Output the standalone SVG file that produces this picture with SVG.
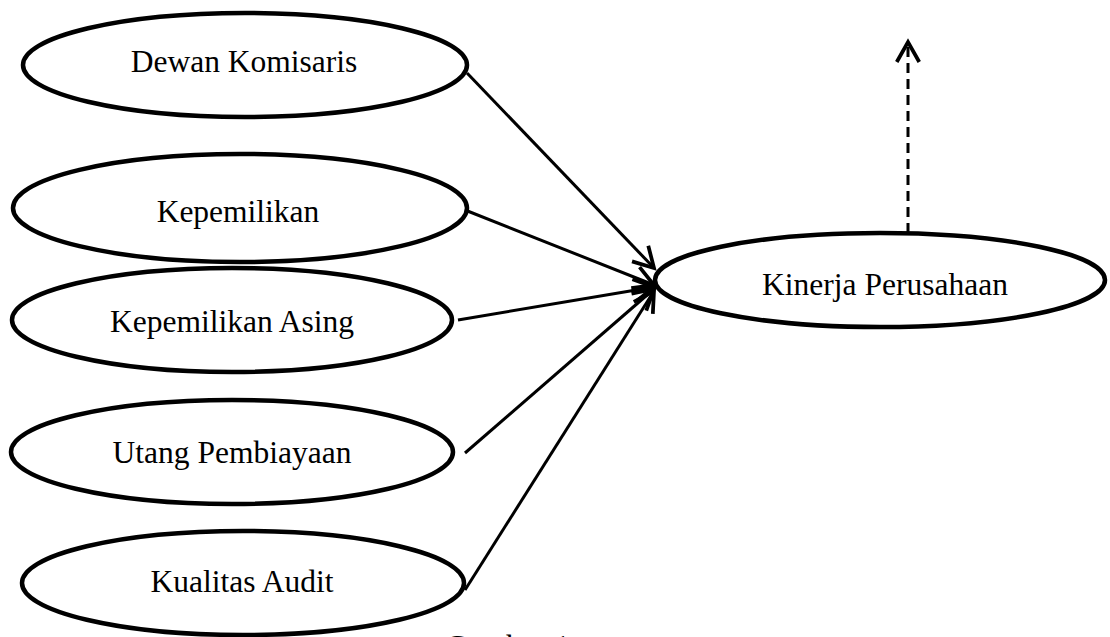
<svg xmlns="http://www.w3.org/2000/svg" width="1110" height="637" viewBox="0 0 1110 637">
<style>
.node ellipse{fill:#fff;stroke:#000;stroke-width:4.5}
.node text{font-family:"Liberation Serif","Times New Roman",serif;font-size:31.5px;fill:#000;text-anchor:middle}
.conn line{stroke:#000;stroke-width:3;fill:none}
.cap{font-family:"Liberation Serif","Times New Roman",serif;font-size:31.5px;fill:#000}
</style>
<defs>
<marker id="arr" markerUnits="userSpaceOnUse" markerWidth="30" markerHeight="30" viewBox="-20 -12 24 24" refX="0" refY="0" orient="auto">
<path d="M-16,-9 L0,0 L-16,9" fill="none" stroke="#000" stroke-width="3"/>
</marker>
</defs>
<rect width="1110" height="637" fill="#fff"/>
<g id="connectors" class="conn">
<line x1="467" y1="73" x2="654" y2="268" marker-end="url(#arr)"/>
<line x1="465" y1="210" x2="654" y2="285" marker-end="url(#arr)"/>
<line x1="458" y1="320" x2="654" y2="287" marker-end="url(#arr)"/>
<line x1="465" y1="453" x2="654" y2="289" marker-end="url(#arr)"/>
<line x1="465" y1="590" x2="654" y2="291" marker-end="url(#arr)"/>
<line x1="908" y1="233" x2="908" y2="42" stroke-width="2.5" stroke-dasharray="10 6" marker-end="url(#arr)"/>
</g>
<g id="dewan-komisaris" class="node">
<ellipse cx="245" cy="65" rx="222" ry="52"/>
<text x="244" y="72">Dewan Komisaris</text>
</g>
<g id="kepemilikan" class="node">
<ellipse cx="240" cy="208" rx="227" ry="54"/>
<text x="238" y="222">Kepemilikan</text>
</g>
<g id="kepemilikan-asing" class="node">
<ellipse cx="232" cy="320" rx="220" ry="52"/>
<text x="232" y="332">Kepemilikan Asing</text>
</g>
<g id="utang-pembiayaan" class="node">
<ellipse cx="232" cy="452" rx="221" ry="52"/>
<text x="232" y="463">Utang Pembiayaan</text>
</g>
<g id="kualitas-audit" class="node">
<ellipse cx="243" cy="583" rx="221" ry="52"/>
<text x="242" y="592">Kualitas Audit</text>
</g>
<g id="kinerja-perusahaan" class="node">
<ellipse cx="880" cy="280" rx="225" ry="47"/>
<text x="885" y="295">Kinerja Perusahaan</text>
</g>
<text class="cap" x="445" y="657">Gambar 1</text>
</svg>
